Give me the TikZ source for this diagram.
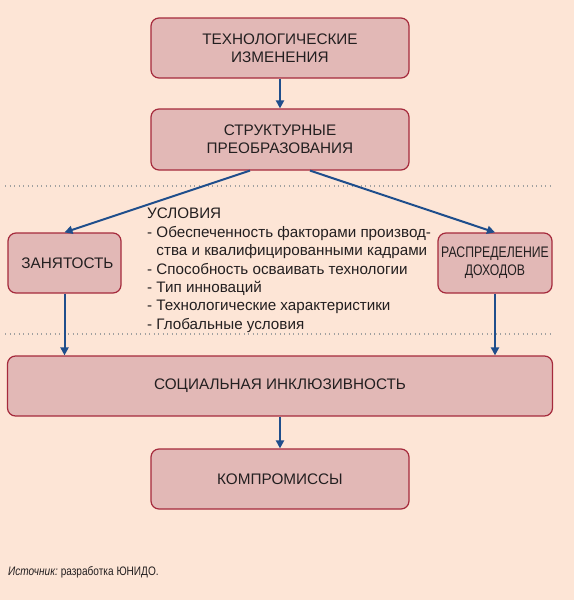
\documentclass[tikz,border=0pt]{standalone}
\usepackage{fontspec}
\setmainfont{Liberation Sans}
\usetikzlibrary{arrows.meta,calc}
\definecolor{bg}{HTML}{FDE5D6}
\definecolor{boxfill}{HTML}{E2B8B6}
\definecolor{boxline}{HTML}{A52A3C}
\definecolor{arrowblue}{HTML}{1F4E8C}
\definecolor{dotgray}{HTML}{A0A0A0}
\definecolor{txt}{HTML}{231F20}
\begin{document}
\begin{tikzpicture}[x=1pt,y=-1pt,
  box/.style={draw=boxline,fill=boxfill,line width=1.2pt,rounded corners=8pt,
    align=center,text=txt,font=\fontsize{15.3}{18}\selectfont,inner sep=0pt},
  arr/.style={draw=arrowblue,line width=2pt,-{Triangle[width=8pt,length=8pt]}},
  sep/.style={draw=dotgray,line width=1.3pt,dash pattern=on 1.3pt off 3.2pt}]
\useasboundingbox[fill=bg] (0,0) rectangle (574,600);
\node[box,minimum width=258pt,minimum height=60pt] (tech) at (280,48) {ТЕХНОЛОГИЧЕСКИЕ\\ИЗМЕНЕНИЯ};
\node[box,minimum width=258pt,minimum height=61pt] (struct) at (280,139.5) {СТРУКТУРНЫЕ\\ПРЕОБРАЗОВАНИЯ};
\node[box,minimum width=113pt,minimum height=60pt] (zan) at (64.5,263) {\hspace*{6pt}ЗАНЯТОСТЬ};
\node[box,minimum width=114pt,minimum height=60pt] (rasp) at (495,263) {\scalebox{0.8}[1]{РАСПРЕДЕЛЕНИЕ}\\\scalebox{0.8}[1]{ДОХОДОВ}};
\node[box,minimum width=545pt,minimum height=60pt] (soc) at (280,386) {СОЦИАЛЬНАЯ ИНКЛЮЗИВНОСТЬ};
\node[box,minimum width=258pt,minimum height=60pt] (komp) at (280,479) {КОМПРОМИССЫ};
\coordinate (d1a) at (5,186);
\coordinate (d1b) at (552,186);
\coordinate (d2a) at (5,334);
\coordinate (d2b) at (552,334);
\draw[sep] (d1a) -- (d1b);
\draw[sep] (d2a) -- (d2b);
\node[anchor=north west,align=left,text=txt,font=\fontsize{15.2}{18.4}\selectfont,inner sep=0pt] (cond) at (147,208)
{УСЛОВИЯ\\
- Обеспеченность факторами производ-\\
\phantom{- }ства и квалифицированными кадрами\\
- Способность осваивать технологии\\
- Тип инноваций\\
- Технологические характеристики\\
- Глобальные условия};
\draw[arr] (tech) -- (struct);
\draw[arr] ($(struct.south)+(-30,0)$) -- (zan.north);
\draw[arr] ($(struct.south)+(30,0)$) -- (rasp.north);
\draw[arr] (zan.south) -- (zan.south |- soc.north);
\draw[arr] (rasp.south) -- (rasp.south |- soc.north);
\draw[arr] (soc) -- (komp);
\node[anchor=west,text=txt,inner sep=0pt,font=\fontsize{12.3}{14}\selectfont] (src) at (8,572)
{\scalebox{0.82}[1]{\textit{Источник:}\hspace{-1pt} разработка ЮНИДО.}};
\end{tikzpicture}
\end{document}
